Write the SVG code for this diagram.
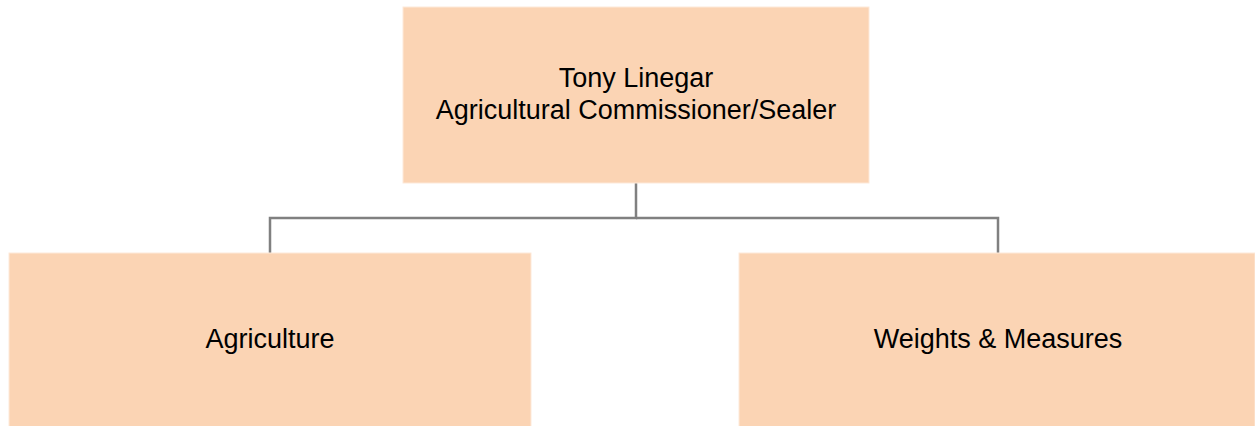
<svg xmlns="http://www.w3.org/2000/svg" width="1255" height="426" viewBox="0 0 1255 426">
<style>
.box{fill:#FBD4B4;stroke:#FDE9D9;stroke-width:1}
.t{font-family:"Liberation Sans",Arial,sans-serif;font-size:27px;fill:#000;text-anchor:middle}
.c{fill:none;stroke:#808080;stroke-width:2.5}
</style>
<g id="connectors">
<path class="c" d="M636 183 V218 H270 V253"/>
<path class="c" d="M636 218 H998 V253"/>
</g>
<g id="n-commissioner">
<rect class="box" x="403" y="7" width="466" height="176"/>
<text class="t" x="636" y="87">Tony Linegar</text>
<text class="t" x="636" y="119">Agricultural Commissioner/Sealer</text>
</g>
<g id="n-agriculture">
<rect class="box" x="9" y="253" width="522" height="175"/>
<text class="t" x="270" y="348">Agriculture</text>
</g>
<g id="n-weights">
<rect class="box" x="739" y="253" width="516" height="175"/>
<text class="t" x="998" y="348">Weights &amp; Measures</text>
</g>
</svg>
